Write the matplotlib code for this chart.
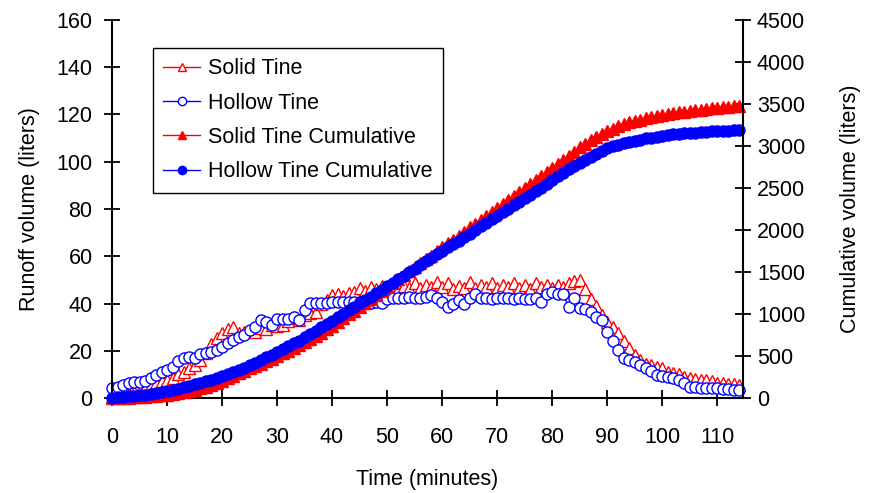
import matplotlib
matplotlib.use("Agg")
import matplotlib.pyplot as plt
import numpy as np

plt.rcParams['font.family'] = ['Liberation Sans', 'DejaVu Sans']

time_min = list(range(0, 115))

solid_runoff = [
    0.5, 0.8, 1.2, 1.8, 2.5, 3.2, 4.2, 5.3, 6.5, 7.2,
    7.6, 8.5, 10.0, 11.1, 12.6, 14.0, 16.1, 19.0, 23.0, 25.5,
    27.5, 29.0, 30.2, 27.5, 28.0, 28.5, 28.1, 29.5, 29.0, 30.9,
    30.5, 31.0, 32.5, 34.4, 33.0, 35.0, 36.0, 36.5, 40.0, 41.5,
    43.5, 44.0, 43.0, 44.5, 45.0, 46.7, 45.5, 47.0, 46.0, 47.5,
    46.5, 48.0, 46.0, 47.5, 46.5, 48.5, 46.5, 48.0, 47.0, 49.0,
    47.0, 48.5, 46.0, 47.5, 46.5, 49.0, 46.5, 48.0, 47.0, 48.5,
    46.5, 48.0, 47.0, 48.5, 46.5, 48.0, 46.0, 48.5, 47.0, 48.0,
    46.5, 48.0, 47.0, 48.5, 49.5, 50.0, 46.0, 42.0, 39.0, 35.0,
    32.0, 30.0, 27.5, 24.0, 21.0, 18.0, 16.0, 14.5, 14.0, 13.0,
    12.5, 11.0, 10.5, 10.0, 9.0, 8.5, 8.0, 7.8, 7.5, 7.0,
    6.5, 6.5, 6.0, 6.0, 5.5,
]

hollow_runoff = [
    4.1, 4.8, 5.5, 6.2, 6.9, 6.9, 7.0, 8.3, 9.7, 11.1,
    11.9, 13.3, 15.8, 16.8, 17.2, 16.8, 18.6, 19.2, 19.6, 20.3,
    21.7, 23.1, 24.5, 26.0, 26.7, 28.8, 29.9, 33.0, 32.3, 30.9,
    33.3, 33.3, 33.3, 34.2, 33.0, 37.2, 40.1, 40.2, 40.3, 40.3,
    40.5, 40.5, 40.5, 40.5, 40.5, 40.8, 40.5, 40.2, 40.5, 40.2,
    42.0, 42.5, 42.5, 42.5, 42.8, 42.5, 42.5, 42.8, 43.6, 42.5,
    40.8, 38.7, 40.0, 41.5, 40.0, 42.3, 44.0, 42.5, 42.3, 42.0,
    42.3, 42.5, 42.3, 42.0, 42.3, 42.0, 41.8, 42.2, 40.8, 44.0,
    44.7, 43.9, 43.9, 38.7, 42.2, 38.0, 37.7, 36.5, 34.4, 33.0,
    28.0, 24.1, 20.3, 16.8, 16.1, 15.4, 14.0, 12.6, 11.4, 9.9,
    9.3, 8.8, 8.3, 7.6, 6.5, 4.8, 4.5, 4.1, 4.1, 4.1,
    4.1, 3.8, 3.6, 3.4, 3.2,
]

solid_cumulative = [
    0.5, 1.3, 2.5, 4.3, 6.8, 10.0, 14.2, 19.5, 26.0, 33.2,
    40.8, 49.3, 59.3, 70.4, 83.0, 97.0, 113.1, 132.1, 155.1, 180.6,
    208.1, 237.1, 267.3, 294.8, 322.8, 351.3, 379.4, 408.9, 437.9, 468.8,
    499.3, 530.3, 562.8, 597.2, 630.2, 665.2, 701.2, 737.7, 777.7, 819.2,
    862.7, 906.7, 949.7, 994.2, 1039.2, 1085.9, 1131.4, 1178.4, 1224.4, 1271.9,
    1318.4, 1366.4, 1412.4, 1459.9, 1506.4, 1554.9, 1601.4, 1649.4, 1696.4, 1745.4,
    1792.4, 1840.9, 1886.9, 1934.4, 1980.9, 2029.9, 2076.4, 2124.4, 2171.4, 2219.9,
    2266.4, 2314.4, 2361.4, 2409.9, 2456.4, 2504.4, 2550.4, 2598.9, 2645.9, 2693.9,
    2740.4, 2788.4, 2835.4, 2883.9, 2933.4, 2983.4, 3029.4, 3071.4, 3110.4, 3145.4,
    3177.4, 3207.4, 3234.9, 3258.9, 3279.9, 3297.9, 3313.9, 3328.4, 3342.4, 3355.4,
    3367.9, 3378.9, 3389.4, 3399.4, 3408.4, 3416.9, 3424.9, 3432.7, 3440.2, 3447.2,
    3453.7, 3460.2, 3466.2, 3472.2, 3477.7,
]

hollow_cumulative = [
    4.1, 8.9, 14.4, 20.6, 27.5, 34.4, 41.4, 49.7, 59.4, 70.5,
    82.4, 95.7, 111.5, 128.3, 145.5, 162.3, 180.9, 200.1, 219.7, 240.0,
    261.7, 284.8, 309.3, 335.3, 362.0, 390.8, 420.7, 453.7, 486.0, 516.9,
    550.2, 583.5, 616.8, 651.0, 684.0, 721.2, 761.3, 801.5, 841.8, 882.1,
    922.6, 963.1, 1003.6, 1044.1, 1084.6, 1125.4, 1165.9, 1206.1, 1246.6, 1286.8,
    1328.8, 1371.3, 1413.8, 1456.3, 1499.1, 1541.6, 1584.1, 1626.9, 1670.5, 1713.0,
    1753.8, 1792.5, 1832.5, 1874.0, 1914.0, 1956.3, 2000.3, 2042.8, 2085.1, 2127.1,
    2169.4, 2211.9, 2254.2, 2296.2, 2338.5, 2380.5, 2422.3, 2464.5, 2505.3, 2549.3,
    2594.0, 2637.9, 2681.8, 2720.5, 2762.7, 2800.7, 2838.4, 2874.9, 2909.3, 2942.3,
    2970.3, 2994.4, 3014.7, 3031.5, 3047.6, 3063.0, 3077.0, 3089.6, 3101.0, 3110.9,
    3120.2, 3129.0, 3137.3, 3144.9, 3151.4, 3156.2, 3160.7, 3164.8, 3168.9, 3173.0,
    3177.1, 3180.9, 3184.5, 3187.9, 3191.1,
]

x_ticks = list(range(0, 111, 10))
left_ticks = list(range(0, 161, 20))
right_ticks = list(range(0, 4501, 500))

RED = '#FF0000'
BLUE = '#0000FF'
FS = 15.5

fig = plt.figure(figsize=(8.72, 4.93), dpi=100)
ax1 = fig.add_axes([112/872, 1-398/493, (743-112)/872, (398-20)/493])
ax2 = ax1.twinx()

ms = 8
l1, = ax1.plot(time_min, solid_runoff, color=RED, lw=1.0, marker='^', ms=ms,
               mfc='white', mec=RED, mew=1.0, clip_on=False, label='Solid Tine')
l2, = ax1.plot(time_min, hollow_runoff, color=BLUE, lw=1.0, marker='o', ms=ms,
               mfc='white', mec=BLUE, mew=1.0, clip_on=False, label='Hollow Tine')
l3, = ax2.plot(time_min, solid_cumulative, color=RED, lw=1.0, marker='^', ms=ms,
               mfc=RED, mec=RED, clip_on=False, label='Solid Tine Cumulative')
l4, = ax2.plot(time_min, hollow_cumulative, color=BLUE, lw=1.0, marker='o', ms=ms,
               mfc=BLUE, mec=BLUE, clip_on=False, label='Hollow Tine Cumulative')

ax1.set_xlim(0, 114.7)
ax1.set_ylim(0, 160)
ax2.set_ylim(0, 4500)
ax1.set_xticks(x_ticks)
ax1.set_yticks(left_ticks)
ax2.set_yticks(right_ticks)

for a in (ax1, ax2):
    a.spines['top'].set_visible(False)
ax1.spines['right'].set_visible(False)
ax2.spines['left'].set_visible(False)
ax2.spines['bottom'].set_visible(False)
for a in (ax1, ax2):
    for s in a.spines.values():
        s.set_linewidth(1.5)

ax1.tick_params(axis='x', direction='inout', length=12, width=1.3, labelsize=FS, pad=15)
ax1.tick_params(axis='y', direction='inout', length=12, width=1.3, labelsize=FS, pad=8)
ax2.tick_params(axis='y', direction='inout', length=12, width=1.3, labelsize=FS, pad=4)

ax1.set_xlabel('Time (minutes)', fontsize=FS, va='center')
ax1.xaxis.set_label_coords((427 - 112) / 631, (398 - 480) / 378)
ax1.set_ylabel('Runoff volume (liters)', fontsize=FS, va='center')
ax1.yaxis.set_label_coords((30 - 112) / 631, 0.5)
ax2.set_ylabel('Cumulative volume (liters)', fontsize=FS, va='center', rotation=90)
ax2.yaxis.set_label_coords((850 - 112) / 631, 0.5)

leg = ax2.legend(handles=[l1, l2, l3, l4], loc='upper left',
                 bbox_to_anchor=((152.7 - 112) / 631, (398 - 47.5) / 378),
                 borderaxespad=0, fontsize=FS, frameon=True, fancybox=False,
                 edgecolor='black', framealpha=1, handlelength=1.7,
                 handletextpad=0.35, labelspacing=0.62, borderpad=0.5, markerscale=0.75)
leg.get_frame().set_linewidth(1.0)

fig.savefig('out.png', dpi=100)
